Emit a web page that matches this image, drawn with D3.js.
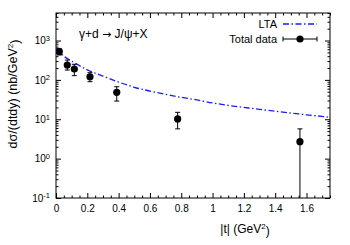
<!DOCTYPE html>
<html>
<head>
<meta charset="utf-8">
<script src="https://cdn.jsdelivr.net/npm/d3@7"></script>
<style>
  body { margin:0; background:#fff; }
  svg { font-family: "Liberation Sans", Arial, sans-serif; }
  .axis path { stroke:#000; stroke-width:1; }
  .axis line { stroke:#000; }
  .axis text { font-size:10px; fill:#000; }
</style>
</head>
<body>
<div id="chart"></div>
<script>
// data
const tData     = [0.021, 0.072, 0.117, 0.217, 0.388, 0.777, 1.558];
const sigmaData = [520, 239, 189, 120, 48.4, 10.2, 2.7];
const errHigh   = [630, 320, 249, 152, 67, 15, 5.7];
const errLow    = [429, 178, 128, 90, 29, 5.7, 0.001];

const ltaT     = [0, 0.02, 0.05, 0.1, 0.2, 0.3, 0.4, 0.5, 0.6, 0.7, 0.8, 0.9, 1.0, 1.1, 1.2, 1.3, 1.4, 1.5, 1.6, 1.7, 1.75];
const ltaSigma = [650, 520, 400, 300, 180, 125, 88, 65, 52, 43, 36, 31, 26, 22.5, 20, 17.8, 16, 14.4, 13, 11.8, 11.2];

const xTicks = [0, 0.2, 0.4, 0.6, 0.8, 1, 1.2, 1.4, 1.6];
const yTicks = [0.1, 1, 10, 100, 1000];

(function() {
const totalW = 350, totalH = 245;
const pL = 56, pR = 330, pT = 13, pB = 198;

const svg = d3.select("#chart").append("svg").attr("width", totalW).attr("height", totalH);

const x = d3.scaleLinear().domain([0, 1.75]).range([pL, pR]);
const y = d3.scaleLog().domain([0.1, 5000]).range([pB, pT]);

// minor ticks
const xMinor = d3.range(0, 1.7501, 0.05).filter(v => Math.abs(v*5 - Math.round(v*5)) > 1e-6);
const yMinor = [];
yTicks.forEach(d => { for (let k = 2; k <= 9; k++) if (d*k <= 5000) yMinor.push(d*k); });

// frame
svg.append("rect").attr("x", pL).attr("y", pT).attr("width", pR-pL).attr("height", pB-pT)
   .attr("fill", "none").attr("stroke", "#000").attr("stroke-width", 1);

// bottom axis
svg.append("g").attr("class","axis").attr("transform",`translate(0,${pB})`)
   .call(d3.axisBottom(x).tickValues(xTicks).tickSize(-5).tickPadding(7).tickFormat(d => String(+d.toFixed(1))))
   .call(g => g.select(".domain").remove());
svg.append("g").attr("class","axis").attr("transform",`translate(0,${pB})`)
   .call(d3.axisBottom(x).tickValues(xMinor).tickSize(-2.5).tickFormat(""))
   .call(g => g.select(".domain").remove());
// top axis (mirror)
svg.append("g").attr("class","axis").attr("transform",`translate(0,${pT})`)
   .call(d3.axisTop(x).tickValues(xTicks).tickSize(-5).tickFormat(""))
   .call(g => g.select(".domain").remove());
svg.append("g").attr("class","axis").attr("transform",`translate(0,${pT})`)
   .call(d3.axisTop(x).tickValues(xMinor).tickSize(-2.5).tickFormat(""))
   .call(g => g.select(".domain").remove());

// left axis
const yl = svg.append("g").attr("class","axis").attr("transform",`translate(${pL},0)`)
   .call(d3.axisLeft(y).tickValues(yTicks).tickSize(-5).tickPadding(6).tickFormat(d => "10"))
   .call(g => g.select(".domain").remove());
yl.selectAll(".tick text").each(function(d) {
    d3.select(this).append("tspan").attr("dy", "-0.45em").style("font-size", "7.5px")
      .text(Math.round(Math.log10(d)));
});
svg.append("g").attr("class","axis").attr("transform",`translate(${pL},0)`)
   .call(d3.axisLeft(y).tickValues(yMinor).tickSize(-2.5).tickFormat(""))
   .call(g => g.select(".domain").remove());
// right axis (mirror)
svg.append("g").attr("class","axis").attr("transform",`translate(${pR},0)`)
   .call(d3.axisRight(y).tickValues(yTicks).tickSize(-5).tickFormat(""))
   .call(g => g.select(".domain").remove());
svg.append("g").attr("class","axis").attr("transform",`translate(${pR},0)`)
   .call(d3.axisRight(y).tickValues(yMinor).tickSize(-2.5).tickFormat(""))
   .call(g => g.select(".domain").remove());

// clip
svg.append("clipPath").attr("id","plotclip").append("rect")
   .attr("x", pL).attr("y", pT).attr("width", pR-pL).attr("height", pB-pT);
const plot = svg.append("g").attr("clip-path","url(#plotclip)");

const blue = "#1a1aff";
const dash = "6,2.5,1.5,2.5";

// LTA curve
const lta = ltaT.map((t,i) => ({t, s: ltaSigma[i]}));
plot.append("path").datum(lta)
   .attr("fill","none").attr("stroke", blue).attr("stroke-width", 1.3).attr("stroke-dasharray", dash)
   .attr("d", d3.line().x(d => x(d.t)).y(d => y(d.s)).curve(d3.curveMonotoneX));

// data points
const pts = tData.map((t,i) => ({t, s: sigmaData[i], hi: errHigh[i], lo: errLow[i]}));
const eg = plot.selectAll(".pt").data(pts).enter().append("g");
eg.append("line").attr("x1", d => x(d.t)).attr("x2", d => x(d.t))
  .attr("y1", d => y(d.hi)).attr("y2", d => y(Math.max(d.lo, 0.01)))
  .attr("stroke","#000").attr("stroke-width",1);
eg.append("line").attr("x1", d => x(d.t)-2.5).attr("x2", d => x(d.t)+2.5)
  .attr("y1", d => y(d.hi)).attr("y2", d => y(d.hi)).attr("stroke","#000").attr("stroke-width",1);
eg.filter(d => d.lo > 0.1).append("line").attr("x1", d => x(d.t)-2.5).attr("x2", d => x(d.t)+2.5)
  .attr("y1", d => y(d.lo)).attr("y2", d => y(d.lo)).attr("stroke","#000").attr("stroke-width",1);
eg.append("circle").attr("cx", d => x(d.t)).attr("cy", d => y(d.s)).attr("r", 3.6).attr("fill","#000");

// title
const title = svg.append("text").attr("x", 79).attr("y", 38).style("font-size","12px").text("γ+d ");
title.append("tspan").style("font-family","'DejaVu Sans', sans-serif").style("font-size","11px").text("→");
title.append("tspan").text(" J/ψ+X");

// legend
svg.append("text").attr("x", 277).attr("y", 28).attr("text-anchor","end").style("font-size","11px").text("LTA");
svg.append("line").attr("x1", 283).attr("x2", 317).attr("y1", 24).attr("y2", 24)
   .attr("stroke", blue).attr("stroke-width", 1.3).attr("stroke-dasharray", dash);
svg.append("text").attr("x", 277).attr("y", 43).attr("text-anchor","end").style("font-size","11px").text("Total data");
svg.append("line").attr("x1", 283).attr("x2", 317).attr("y1", 39).attr("y2", 39).attr("stroke","#000");
svg.append("line").attr("x1", 283).attr("x2", 283).attr("y1", 36.5).attr("y2", 41.5).attr("stroke","#000");
svg.append("line").attr("x1", 317).attr("x2", 317).attr("y1", 36.5).attr("y2", 41.5).attr("stroke","#000");
svg.append("circle").attr("cx", 300).attr("cy", 39).attr("r", 3.6).attr("fill","#000");

// axis titles
const yt = svg.append("text").attr("transform","translate(17,94) rotate(-90)").attr("text-anchor","middle")
   .style("font-size","12.5px").text("dσ/(dtdy) (nb/GeV");
yt.append("tspan").attr("dy","-0.45em").style("font-size","8px").text("2");
yt.append("tspan").attr("dy","0.45em").text(")");

const xt = svg.append("text").attr("x", 245).attr("y", 233).attr("text-anchor","middle")
   .style("font-size","12px").text("|t| (GeV");
xt.append("tspan").attr("dy","-0.45em").style("font-size","8px").text("2");
xt.append("tspan").attr("dy","0.45em").text(")");
})();
</script>
</body>
</html>
